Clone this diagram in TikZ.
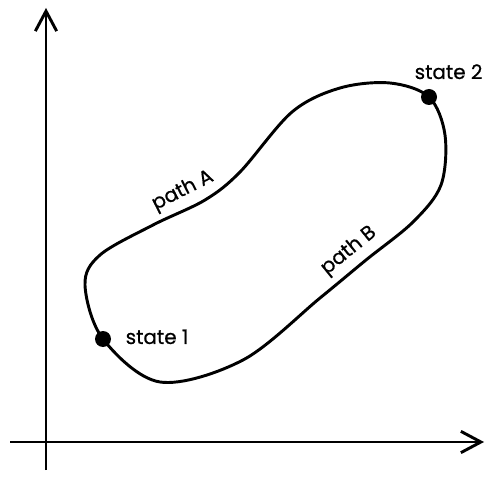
\documentclass[tikz,border=0pt]{standalone}
\usepackage{fontspec}
\setmainfont{Poppins}
\usetikzlibrary{arrows.meta}

\begin{document}
\begin{tikzpicture}[
    x=0.75pt, y=-0.75pt,
    axis/.style={line width=2.2pt, -{Straight Barb[length=15pt, width=16pt, line width=2.2pt]}},
    loopline/.style={line width=2.2pt},
    statedot/.style={circle, fill, minimum size=12pt, inner sep=0pt},
    lbl/.style={font=\fontsize{15}{17}\selectfont\addfontfeatures{FakeBold=0.6}}
]
\useasboundingbox (0,0) rectangle (493,481);

% Axes
\coordinate (ybot) at (46,470);
\coordinate (ytip) at (46,8);
\coordinate (xleft) at (10,442);
\coordinate (xtip) at (484,442);
\draw[axis] (ybot) -- (ytip);
\draw[axis] (xleft) -- (xtip);

% States
\coordinate (s1) at (103,339);
\coordinate (s2) at (429,97);

% Closed loop through both states
\draw[loopline] plot[smooth cycle, tension=0.55] coordinates {
  (s2) (445,135) (441,185) (413,222) (366,260) (320,298) (243,360)
  (160,382) (s1) (85,285) (100,255) (153,225) (205,200) (240,172)
  (292,112) (340,88) (390,83)
};

\node[statedot] (state1) at (s1) {};
\node[statedot] (state2) at (s2) {};

% Labels
\node[lbl, anchor=base west] (l1) at (121,344) {state 1};
\node[lbl, anchor=base west] (l2) at (410,79) {state 2};
\node[lbl, rotate=27] (pa) at (183,191) {path A};
\node[lbl, rotate=39] (pb) at (349,251) {path B};

\end{tikzpicture}
\end{document}
